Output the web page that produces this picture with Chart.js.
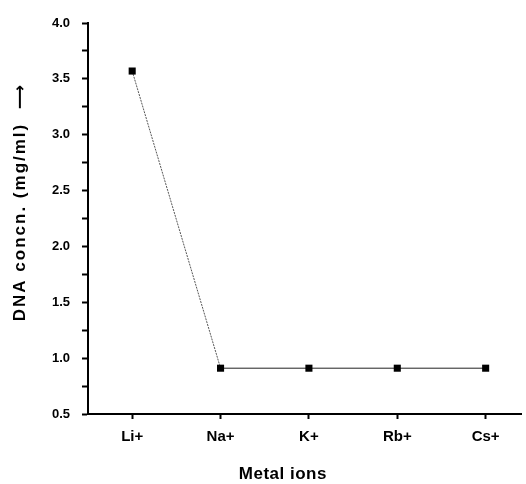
<!DOCTYPE html>
<html>
<head>
<meta charset="utf-8">
<script src="https://cdn.jsdelivr.net/npm/chart.js@4.4.1/dist/chart.umd.min.js"></script>
<style>
  html, body { margin: 0; padding: 0; background: #fff; }
  #wrap { width: 526px; height: 484px; }
</style>
</head>
<body>
<div id="wrap"><canvas id="c"></canvas></div>
<script>
// metal ions on the x axis, DNA concentration (mg/ml) on y
const IONS = ['Li+', 'Na+', 'K+', 'Rb+', 'Cs+'];
const DNA_CONC = [3.57, 0.91, 0.91, 0.91, 0.91];

const Y_MIN = 0.5;
const Y_MAX = 4.0;

const X_TITLE = 'Metal ions';
const Y_TITLE = 'DNA concn. (mg/ml)  \u27F6';

const FONT = { family: "'Liberation Sans', Arial, 'DejaVu Sans'", weight: 'bold' };

// axis titles sit a bit off-centre in the original, so draw them by hand
const axisTitles = {
  id: 'axisTitles',
  afterDraw(chart) {
    const { ctx, chartArea: a } = chart;
    ctx.save();
    ctx.fillStyle = '#000';
    ctx.font = `bold 17px ${FONT.family}`;
    ctx.textAlign = 'center';
    ctx.textBaseline = 'middle';
    ctx.letterSpacing = '0.5px';
    ctx.fillText(X_TITLE, a.left + (a.right - a.left) * 0.45, 474);
    ctx.translate(20, a.top + (a.bottom - a.top) * 0.458);
    ctx.rotate(-Math.PI / 2);
    ctx.letterSpacing = '2px';
    ctx.fillText(Y_TITLE, 0, 0);
    ctx.restore();
  },
};

new Chart(document.getElementById('c'), {
  type: 'line',
  data: {
    datasets: [{
      data: DNA_CONC.map((v, i) => ({ x: i, y: v })),
      borderColor: '#222',
      borderWidth: 1,
      backgroundColor: '#000',
      pointStyle: 'rect',
      pointRadius: 5,
      pointBorderWidth: 0,
      tension: 0,
      segment: {
        borderDash: ctx => ctx.p0DataIndex === 0 ? [2, 1] : undefined,
        borderColor: ctx => ctx.p0DataIndex === 0 ? '#555' : '#222',
      },
    }],
  },
  plugins: [axisTitles],
  options: {
    responsive: true,
    maintainAspectRatio: false,
    animation: false,
    layout: { padding: { top: 23, right: 0, left: 0, bottom: 0 } },
    plugins: { legend: { display: false }, tooltip: { enabled: false } },
    scales: {
      x: {
        type: 'linear',
        min: -0.5,
        max: 4.4,
        afterBuildTicks: s => { s.ticks = IONS.map((_, i) => ({ value: i })); },
        afterFit: s => { s.height = 70; },
        ticks: {
          color: '#000',
          font: { ...FONT, size: 15 },
          padding: 9,
          maxRotation: 0,
          callback: v => IONS[Math.round(v)],
        },
        grid: { drawOnChartArea: false, drawTicks: true, tickLength: 5, color: '#000', tickWidth: 2 },
        border: { display: true, color: '#000', width: 2 },
      },
      y: {
        min: Y_MIN,
        max: Y_MAX,
        afterFit: s => { s.width = 88; },
        ticks: {
          stepSize: 0.25,
          color: '#000',
          font: { ...FONT, size: 13 },
          padding: 12,
          callback: v => Math.abs(v * 2 - Math.round(v * 2)) < 1e-6 ? v.toFixed(1) : '',
        },
        grid: { drawOnChartArea: false, drawTicks: true, tickLength: 6, color: '#000', tickWidth: 2 },
        border: { display: true, color: '#000', width: 2 },
      },
    },
  },
});
</script>
</body>
</html>
